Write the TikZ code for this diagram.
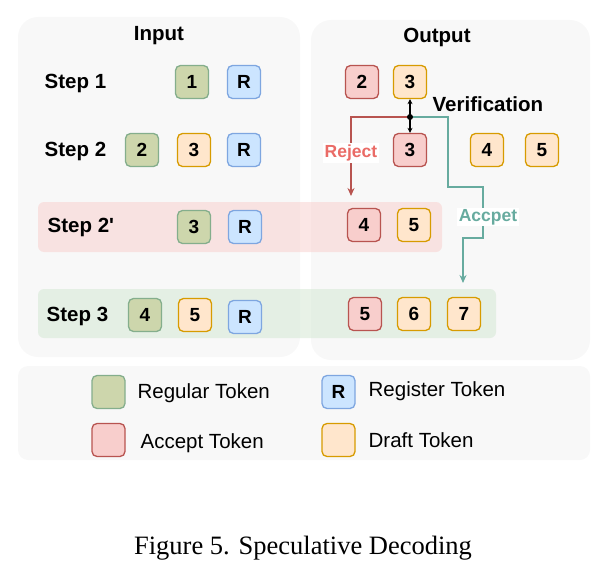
\documentclass[tikz,border=0pt]{standalone}
\usepackage{fontspec}
\setmainfont{Liberation Sans}
\newfontfamily\capfont{Liberation Serif}
\usetikzlibrary{arrows.meta}
\definecolor{panelgray}{HTML}{F8F8F8}
\definecolor{regfill}{HTML}{CDD6AC}
\definecolor{regline}{HTML}{84AE8C}
\definecolor{regisfill}{HTML}{CCE5FF}
\definecolor{regisline}{HTML}{7EA6E0}
\definecolor{accfill}{HTML}{F8CECC}
\definecolor{accline}{HTML}{B85450}
\definecolor{draftfill}{HTML}{FFE6CC}
\definecolor{draftline}{HTML}{D79B00}
\definecolor{rejtext}{HTML}{EA6B66}
\definecolor{teal}{HTML}{67AB9F}
\definecolor{bandgreen}{HTML}{D5E8D4}

\begin{document}
\begin{tikzpicture}[x=1pt,y=-1pt,>=Stealth,line width=1.3pt,
 panel/.style={fill=panelgray,rounded corners=20pt},
 tok/.style={draw,rounded corners=5pt,minimum width=33pt,minimum height=33pt,
  inner sep=0pt,font=\fontsize{19}{19}\selectfont\bfseries},
 reg/.style={tok,fill=regfill,draw=regline},
 regis/.style={tok,fill=regisfill,draw=regisline},
 acc/.style={tok,fill=accfill,draw=accline},
 draft/.style={tok,fill=draftfill,draw=draftline},
 lab/.style={font=\fontsize{20.5}{24}\selectfont\bfseries,inner sep=0pt},
 leg/.style={font=\fontsize{20.5}{24}\selectfont,anchor=west,inner sep=0pt},
 flowlab/.style={fill=white,inner sep=1.5pt,font=\fontsize{17.5}{20}\selectfont\bfseries}]
\useasboundingbox (0,0) rectangle (608,578);
% panels
\fill[panel] (18,17) rectangle (300,357);
\fill[panel] (311,20) rectangle (590,360);
\fill[panel,rounded corners=10pt] (18,366) rectangle (590,460);
% step bands
\fill[accfill,fill opacity=0.5,rounded corners=6pt] (38,202) rectangle (442,252);
\fill[bandgreen,fill opacity=0.55,rounded corners=6pt] (38,289) rectangle (496,338);
% titles
\node[lab] (tin) at (159,36) {Input};
\node[lab] (tout) at (437,37) {Output};
\node[lab,anchor=west] (s1) at (44,83) {Step 1};
\node[lab,anchor=west] (s2) at (44,151) {Step 2};
\node[lab,anchor=west] (s2p) at (47,227) {Step 2\textquotesingle};
\node[lab,anchor=west] (s3) at (46,316) {Step 3};
% step 1
\node[reg] (i1) at (192,82) {1};
\node[regis] (r1) at (244,82) {R};
\node[acc] (o1a) at (362,82) {2};
\node[draft] (o1b) at (410,82) {3};
% step 2
\node[reg] (i2a) at (142,150) {2};
\node[draft] (i2b) at (194,150) {3};
\node[regis] (r2) at (244,150) {R};
\node[acc] (o2a) at (410,150) {3};
\node[draft] (o2b) at (487,150) {4};
\node[draft] (o2c) at (542,150) {5};
% step 2'
\node[reg] (i2c) at (194,227) {3};
\node[regis] (r2c) at (245,227) {R};
\node[acc] (o2d) at (364,225) {4};
\node[draft] (o2e) at (414,225) {5};
% step 3
\node[reg] (i3a) at (145,315) {4};
\node[draft] (i3b) at (195,315) {5};
\node[regis] (r3) at (245,317) {R};
\node[acc] (o3a) at (365,314) {5};
\node[draft] (o3b) at (414,314) {6};
\node[draft] (o3c) at (464,314) {7};
% verification
\node[lab,anchor=west] (ver) at (432,104) {Verification};
\coordinate (vd) at (410,117);
\coordinate (rejend) at (351,196);
\coordinate (accend) at (463,283);
\draw[accline,-{Stealth[length=8pt,width=7pt]}] (vd) -| (rejend);
\draw[teal,-{Stealth[length=8pt,width=7pt]}] (vd) -- (448,117) -- (448,187) -- (483,187) -- (483,238) -- (463,238) -- (accend);
\draw[{Stealth[length=5pt,width=5pt]}-{Stealth[length=5pt,width=5pt]}] (o1b.south) -- (o2a.north);
\fill (vd) circle (3pt);
\node[flowlab,text=rejtext] (rej) at (351,153) {Reject};
\node[flowlab,text=teal] (acp) at (488,217) {Accpet};
% legend
\node[reg] (lg1) at (108.5,392) {};
\node[regis] (lg2) at (338.5,392) {R};
\node[acc] (lg3) at (108.5,440) {};
\node[draft] (lg4) at (338.5,440) {};
\node[leg] (lt1) at (137,393) {Regular Token};
\node[leg] (lt2) at (368,391) {Register Token};
\node[leg] (lt3) at (140,443) {Accept Token};
\node[leg] (lt4) at (368,440) {Draft Token};
% caption
\node[font=\capfont\fontsize{26.5}{30}\selectfont] (cap) at (303,548) {Figure 5. Speculative Decoding};
\end{tikzpicture}
\end{document}
